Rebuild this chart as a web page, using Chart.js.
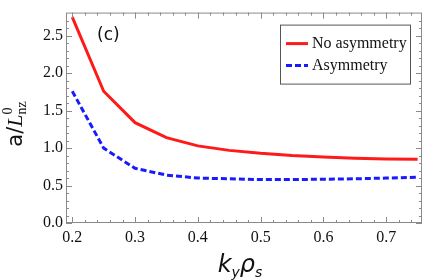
<!DOCTYPE html>
<html>
<head>
<meta charset="utf-8">
<script src="https://cdn.jsdelivr.net/npm/chart.js@4"></script>
<style>
  body { margin: 0; background: #fff; }
</style>
</head>
<body>
<canvas id="myChart" width="427" height="280"></canvas>
<script>
// data
const kyRho = [0.2, 0.25, 0.3, 0.35, 0.4, 0.45, 0.5, 0.55, 0.6, 0.65, 0.7, 0.75];
const noAsym = [2.75, 1.76, 1.34, 1.14, 1.03, 0.97, 0.93, 0.90, 0.88, 0.865, 0.855, 0.85];
const asym = [1.76, 1.0, 0.73, 0.64, 0.60, 0.59, 0.58, 0.58, 0.585, 0.59, 0.60, 0.61];
const seriesNames = ["No asymmetry", "Asymmetry"];
const xTicks = [0.2, 0.3, 0.4, 0.5, 0.6, 0.7];
const xMinor = [0.2, 0.22, 0.24, 0.26, 0.28, 0.3, 0.32, 0.34, 0.36, 0.38, 0.4, 0.42, 0.44, 0.46, 0.48,
                0.5, 0.52, 0.54, 0.56, 0.58, 0.6, 0.62, 0.64, 0.66, 0.68, 0.7, 0.72, 0.74];
const yTicks = [0, 0.5, 1.0, 1.5, 2.0, 2.5];
const yMinor = [0, 0.1, 0.2, 0.3, 0.4, 0.5, 0.6, 0.7, 0.8, 0.9, 1.0, 1.1, 1.2, 1.3, 1.4, 1.5,
                1.6, 1.7, 1.8, 1.9, 2.0, 2.1, 2.2, 2.3, 2.4, 2.5, 2.6, 2.7];

const SERIF = "'Liberation Serif', 'DejaVu Serif', serif";
const SANS = "'DejaVu Sans', 'Liberation Sans', sans-serif";
const FRAME = "#8a8a8a";

// frame with inward ticks, panel label, legend and axis titles
const framePlugin = {
    id: "frame",
    afterDatasetsDraw(chart) {
        const { ctx, chartArea: a, scales } = chart;
        const xs = scales.x, ys = scales.y;
        ctx.save();
        ctx.strokeStyle = FRAME;
        ctx.lineWidth = 1;
        ctx.strokeRect(a.left + 0.5, a.top + 0.5, a.right - a.left - 1, a.bottom - a.top - 1);

        ctx.beginPath();
        xMinor.forEach(v => {
            const px = Math.round(xs.getPixelForValue(v)) + 0.5;
            const len = xTicks.some(t => Math.abs(t - v) < 1e-6) ? 6 : 3;
            ctx.moveTo(px, a.bottom); ctx.lineTo(px, a.bottom - len);
            ctx.moveTo(px, a.top); ctx.lineTo(px, a.top + len);
        });
        yMinor.forEach(v => {
            const py = Math.round(ys.getPixelForValue(v)) + 0.5;
            const len = yTicks.some(t => Math.abs(t - v) < 1e-6) ? 6 : 3;
            ctx.moveTo(a.left, py); ctx.lineTo(a.left + len, py);
            ctx.moveTo(a.right, py); ctx.lineTo(a.right - len, py);
        });
        ctx.stroke();

        // panel label
        ctx.fillStyle = "#111";
        ctx.font = "17px " + SANS;
        ctx.textBaseline = "alphabetic";
        ctx.textAlign = "left";
        ctx.fillText("(c)", a.left + 31, a.top + 27);

        // legend box
        const lx = a.left + 214, ly = a.top + 12, lw = 130, lh = 59;
        ctx.fillStyle = "#fff";
        ctx.fillRect(lx, ly, lw, lh);
        ctx.strokeStyle = "#555";
        ctx.strokeRect(lx + 0.5, ly + 0.5, lw, lh);
        chart.data.datasets.forEach((ds, i) => {
            const yy = ly + 19 + i * 22;
            ctx.beginPath();
            ctx.strokeStyle = ds.borderColor;
            ctx.lineWidth = 3;
            ctx.setLineDash(ds.borderDash || []);
            ctx.moveTo(lx + 6, yy); ctx.lineTo(lx + 28, yy);
            ctx.stroke();
            ctx.setLineDash([]);
            ctx.fillStyle = "#111";
            ctx.font = "16px " + SERIF;
            ctx.textBaseline = "middle";
            ctx.fillText(ds.label, lx + 32, yy);
        });
        ctx.restore();
    },
    afterDraw(chart) {
        const { ctx } = chart;
        ctx.save();
        ctx.fillStyle = "#111";
        ctx.textBaseline = "alphabetic";
        ctx.textAlign = "left";

        // x title: k_y rho_s
        const big = "italic 24px " + SANS, small = "italic 14px " + SANS;
        const parts = [["k", big, 0], ["y", small, 5], ["ρ", big, 0], ["s", small, 5]];
        let w = 0;
        parts.forEach(p => { ctx.font = p[1]; w += ctx.measureText(p[0]).width; });
        let x = 240 - w / 2;
        parts.forEach(p => {
            ctx.font = p[1];
            ctx.fillText(p[0], x, 272 + p[2]);
            x += ctx.measureText(p[0]).width;
        });

        // y title: a / L^0_nz (rotated)
        ctx.translate(22, 124);
        ctx.rotate(-Math.PI / 2);
        const yp = [["a/", "21px " + SANS, 0], ["L", "italic 22px " + SERIF, 0]];
        let yw = 0;
        yp.forEach(p => { ctx.font = p[1]; yw += ctx.measureText(p[0]).width; });
        ctx.font = "14px " + SERIF;
        yw += ctx.measureText("nz").width;
        let yx = -yw / 2;
        yp.forEach(p => {
            ctx.font = p[1];
            ctx.fillText(p[0], yx, 0);
            yx += ctx.measureText(p[0]).width;
        });
        ctx.font = "14px " + SERIF;
        ctx.fillText("0", yx, -10);
        ctx.fillText("nz", yx, 4);
        ctx.restore();
    }
};

const ctx = document.getElementById("myChart").getContext("2d");
new Chart(ctx, {
    type: "line",
    data: {
        datasets: [{
            label: seriesNames[0],
            data: kyRho.map((k, i) => ({ x: k, y: noAsym[i] })),
            borderColor: "#ff1a1a",
            borderWidth: 3,
            pointRadius: 0,
            fill: false
        }, {
            label: seriesNames[1],
            data: kyRho.map((k, i) => ({ x: k, y: asym[i] })),
            borderColor: "#1a1aff",
            borderWidth: 3,
            borderDash: [6, 3],
            pointRadius: 0,
            fill: false
        }]
    },
    options: {
        responsive: false,
        animation: false,
        layout: { padding: { top: 2, right: 5, left: 0, bottom: 0 } },
        plugins: {
            legend: { display: false },
            tooltip: { enabled: false }
        },
        scales: {
            x: {
                type: "linear",
                min: 0.19,
                max: 0.757,
                afterBuildTicks: s => { s.ticks = xTicks.map(v => ({ value: v })); },
                afterFit: s => { s.height = 57; },
                grid: { display: false, drawTicks: false },
                border: { display: false },
                ticks: {
                    padding: 5,
                    color: "#111",
                    font: { family: SERIF, size: 16 },
                    maxRotation: 0,
                    callback: v => v.toFixed(1)
                }
            },
            y: {
                min: 0,
                max: 2.81,
                afterBuildTicks: s => { s.ticks = yTicks.map(v => ({ value: v })); },
                afterFit: s => { s.width = 66; },
                grid: { display: false, drawTicks: false },
                border: { display: false },
                ticks: {
                    padding: 3,
                    color: "#111",
                    font: { family: SERIF, size: 16 },
                    callback: v => v.toFixed(1)
                }
            }
        }
    },
    plugins: [framePlugin]
});
</script>
</body>
</html>
